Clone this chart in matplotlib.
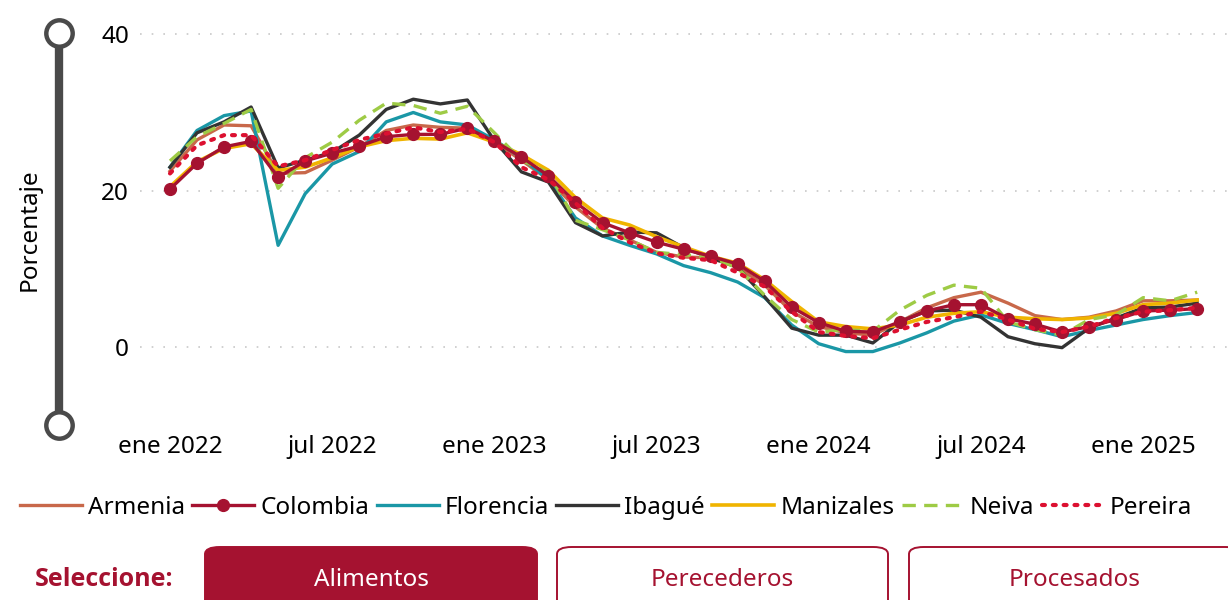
import matplotlib.pyplot as plt
from matplotlib.patches import FancyBboxPatch
from matplotlib.lines import Line2D

plt.rcParams['font.family'] = ['Noto Sans', 'DejaVu Sans']

# inflacion anual de alimentos, ene 2022 - mar 2025
meses = list(range(39))
tick_pos = [0, 6, 12, 18, 24, 30, 36]
tick_lab = ['ene 2022', 'jul 2022', 'ene 2023', 'jul 2023', 'ene 2024', 'jul 2024', 'ene 2025']

armenia = [22.5, 26.5, 28.4, 28.3, 22.2, 22.3, 23.9, 25.6, 27.7, 28.4, 28.1, 28.0, 26.2, 23.9, 21.4, 17.9,
           15.2, 13.7, 12.1, 11.5, 11.4, 10.2, 7.9, 4.5, 2.6, 1.8, 1.5, 3.2, 5.0, 6.3, 7.0, 5.6, 4.0, 3.5,
           3.8, 4.6, 5.9, 5.9, 6.0]
colombia = [20.2, 23.5, 25.6, 26.3, 21.7, 23.8, 24.8, 25.7, 26.9, 27.2, 27.2, 28.0, 26.3, 24.3, 21.9, 18.5,
            15.9, 14.6, 13.4, 12.5, 11.6, 10.6, 8.4, 5.1, 3.1, 2.0, 1.9, 3.2, 4.6, 5.4, 5.4, 3.6, 2.9, 1.9,
            2.6, 3.5, 4.6, 4.7, 4.9]
florencia = [23.0, 27.7, 29.6, 30.2, 13.0, 19.6, 23.4, 25.0, 28.8, 30.0, 28.8, 28.4, 26.5, 24.2, 21.4, 16.5,
             14.2, 13.0, 11.9, 10.4, 9.5, 8.3, 6.3, 2.8, 0.4, -0.6, -0.6, 0.5, 1.8, 3.3, 4.1, 3.0, 2.2, 1.3,
             2.1, 2.8, 3.5, 4.0, 4.4]
ibague = [23.0, 27.4, 28.8, 30.7, 22.9, 23.9, 24.9, 27.1, 30.4, 31.7, 31.1, 31.6, 26.4, 22.4, 21.1, 15.9,
          14.2, 14.7, 14.6, 12.7, 11.4, 10.2, 6.4, 2.4, 1.5, 1.5, 0.5, 3.2, 4.6, 4.7, 3.8, 1.3, 0.4, -0.1,
          2.4, 3.7, 5.0, 5.1, 5.6]
manizales = [20.5, 23.7, 25.4, 26.0, 22.6, 23.0, 24.2, 25.6, 26.4, 26.7, 26.6, 27.4, 26.2, 24.6, 22.6, 19.1,
             16.5, 15.6, 14.1, 12.8, 11.6, 10.7, 8.6, 5.8, 3.2, 2.6, 2.3, 2.8, 3.8, 4.3, 4.5, 3.8, 3.6, 3.5,
             3.7, 4.3, 5.4, 5.6, 6.0]
neiva = [23.8, 26.9, 28.6, 30.4, 20.3, 24.2, 26.2, 29.0, 31.2, 30.9, 29.9, 30.8, 27.4, 23.9, 22.3, 16.2,
         15.0, 13.7, 12.1, 11.8, 11.5, 10.1, 6.6, 3.5, 1.9, 2.2, 2.0, 4.7, 6.6, 7.9, 7.5, 3.2, 2.2, 1.5,
         3.5, 4.1, 6.3, 5.9, 7.0]
pereira = [22.2, 25.8, 27.1, 27.1, 23.1, 23.9, 25.2, 26.5, 27.3, 28.1, 27.5, 27.9, 26.2, 23.0, 21.4, 18.4,
           15.2, 13.4, 12.0, 11.4, 11.1, 9.5, 7.7, 4.5, 1.9, 1.4, 1.1, 2.2, 3.2, 3.8, 4.5, 3.5, 2.3, 1.9,
           2.6, 3.7, 4.5, 4.7, 5.0]

rojo = '#a51230'

fig = plt.figure(figsize=(12.28, 6), dpi=100)
ax = fig.add_axes([140 / 1228, 1 - 425 / 600, 1 - 140 / 1228, 400 / 600])

ax.plot(meses, armenia, color='#c8684a', lw=2.4, label='Armenia', zorder=3)
ax.plot(meses, florencia, color='#1a97a6', lw=2.4, label='Florencia', zorder=3)
ax.plot(meses, ibague, color='#333333', lw=2.4, label='Ibagué', zorder=3)
ax.plot(meses, manizales, color='#f0b400', lw=2.6, label='Manizales', zorder=3)
ax.plot(meses, neiva, color='#9ecb45', lw=2.4, ls=(0, (4, 2.5)), label='Neiva', zorder=3)
ax.plot(meses, colombia, color=rojo, lw=2.4, marker='o', ms=8.5, label='Colombia', zorder=5)
ax.plot(meses, pereira, color='#dc1030', lw=3, ls=(0, (0.7, 1.9)), dash_capstyle='round',
        label='Pereira', zorder=6)

ax.set_xlim(-1.11, 39.14)
ax.set_ylim(-10, 41.2)
ax.set_yticks([0, 20, 40])
ax.set_xticks(tick_pos)
ax.set_xticklabels(tick_lab)
ax.tick_params(length=0, labelsize=17.5, colors='#000000')
ax.tick_params(axis='y', pad=8)
ax.tick_params(axis='x', pad=7)
for v in [0, 20, 40]:
    ax.axhline(v, color='#c8c8c8', lw=1.2, ls=(0, (1, 6)), zorder=1)
for s in ax.spines.values():
    s.set_visible(False)

# barra del eje y con sus dos topes
fig.add_artist(Line2D([59 / 1228, 59 / 1228], [1 - 33 / 600, 1 - 425 / 600],
                      color='#4a4a4a', lw=6, solid_capstyle='butt'))
for yy in [33, 425]:
    fig.add_artist(Line2D([59 / 1228], [1 - yy / 600], marker='o', ms=19, mfc='white',
                          mec='#4a4a4a', mew=3.2, lw=0))
fig.text(30 / 1228, 1 - 230 / 600, 'Porcentaje', rotation=90, ha='center', va='center', fontsize=17.5)

# leyenda
orden = ['Armenia', 'Colombia', 'Florencia', 'Ibagué', 'Manizales', 'Neiva', 'Pereira']
h, l = ax.get_legend_handles_labels()
mapa = dict(zip(l, h))
fig.legend([mapa[n] for n in orden], orden, loc='center left', bbox_to_anchor=(20 / 1228, 1 - 508 / 600),
           ncol=7, frameon=False, fontsize=17.5, handlelength=2.55, handletextpad=0.25,
           columnspacing=0.3, borderaxespad=0, borderpad=0)

# selector de categoria
fig.text(35 / 1228, 1 - 580 / 600, 'Seleccione:', color=rojo, fontsize=18, fontweight='bold',
         family=['Open Sans', 'Lato', 'DejaVu Sans'], ha='left', va='center')
botones = [('Alimentos', 205, 537, True), ('Perecederos', 557, 888, False), ('Procesados', 909, 1240, False)]
for txt, x0, x1, activo in botones:
    caja = FancyBboxPatch((x0 / 1228, 1 - 620 / 600), (x1 - x0) / 1228, 73 / 600,
                          boxstyle='round,pad=0,rounding_size=0.012', transform=fig.transFigure,
                          fc=rojo if activo else 'white', ec=rojo, lw=1.4)
    fig.add_artist(caja)
    xc = (x0 + x1) / 2 if x1 < 1228 else 1075
    fig.text(xc / 1228, 1 - 580 / 600, txt,
             color='white' if activo else rojo, fontsize=17.5, ha='center', va='center')

fig.savefig('out.png', dpi=100)
